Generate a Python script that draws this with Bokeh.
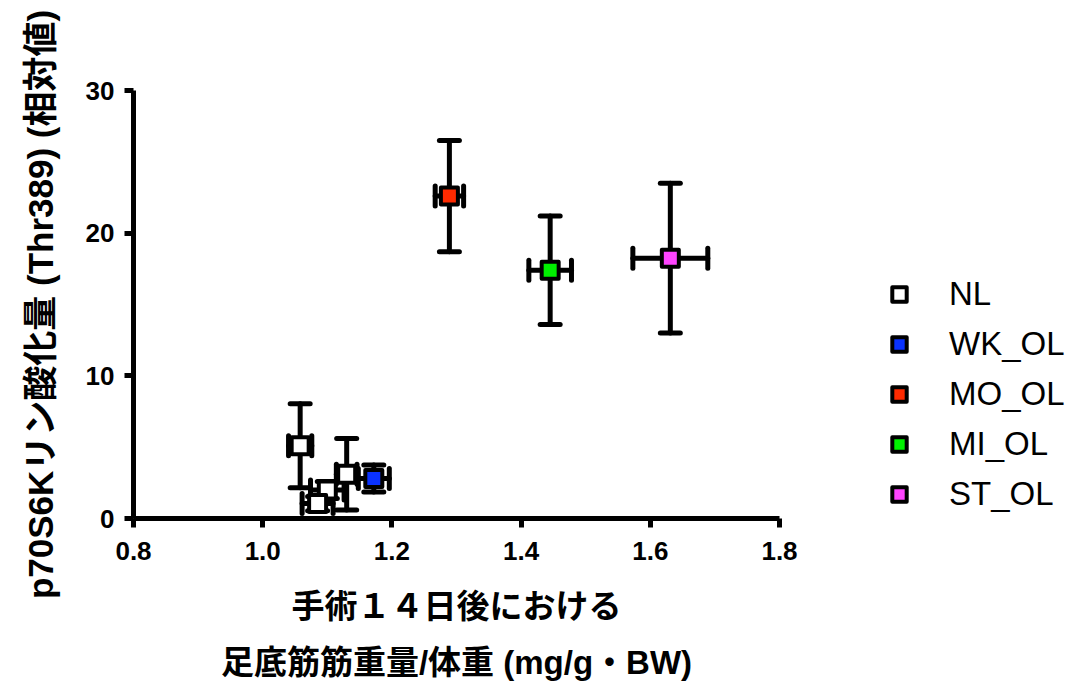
from bokeh.plotting import figure
from bokeh.models import (ColumnDataSource, Whisker, TeeHead, Legend, LegendItem,
                          FixedTicker, Range1d)
from bokeh.embed import file_html
from bokeh.resources import INLINE

# ---- data ----
groups = ["NL", "NL", "NL", "NL", "WK_OL", "MO_OL", "MI_OL", "ST_OL"]
x_vals = [1.058, 1.100, 1.130, 1.085, 1.172, 1.289, 1.445, 1.631]
y_vals = [5.1, 2.0, 3.1, 1.05, 2.8, 22.6, 17.4, 18.25]
x_err = [0.018, 0.026, 0.016, 0.024, 0.024, 0.022, 0.033, 0.058]
y_err = [2.95, 0.6, 2.5, 0.5, 0.95, 3.9, 3.8, 5.25]

legend_order = ["NL", "WK_OL", "MO_OL", "MI_OL", "ST_OL"]
group_colors = {"NL": "#ffffff", "WK_OL": "#0a32ff", "MO_OL": "#ff2a00",
                "MI_OL": "#00f000", "ST_OL": "#ff44ff"}

x_ticks = [0.8, 1.0, 1.2, 1.4, 1.6, 1.8]
y_ticks = [0, 10, 20, 30]

x_title = "手術１４日後における\n足底筋筋重量/体重 (mg/g・BW)"
y_title = "p70S6Kリン酸化量 (Thr389) (相対値)"

FONT = "'Liberation Sans', 'Noto Sans CJK JP'"

p = figure(frame_width=646, frame_height=428, output_backend="svg", toolbar_location=None,
           x_range=Range1d(0.8, 1.8), y_range=Range1d(0, 30),
           min_border_left=133, min_border_right=292, min_border_top=90,
           min_border_bottom=165)
p.outline_line_color = None
p.xgrid.visible = False
p.ygrid.visible = False
p.background_fill_color = "white"
p.border_fill_color = "white"

for ax in (p.xaxis[0], p.yaxis[0]):
    ax.axis_line_width = 5
    ax.axis_line_color = "black"
    ax.major_tick_line_width = 5
    ax.major_tick_line_color = "black"
    ax.major_tick_out = 9
    ax.major_tick_in = 0
    ax.minor_tick_line_color = None
    ax.major_label_text_font = FONT
    ax.major_label_text_font_style = "bold"
    ax.major_label_text_font_size = "26px"
    ax.major_label_text_color = "black"
    ax.axis_label_text_font = FONT
    ax.axis_label_text_font_style = "bold"
    ax.axis_label_text_color = "black"

p.xaxis.ticker = FixedTicker(ticks=x_ticks)
p.xaxis.major_label_overrides = {t: f"{t:.1f}" for t in x_ticks}
p.xaxis.major_label_standoff = 14
p.yaxis.major_label_standoff = 10
p.yaxis.ticker = FixedTicker(ticks=y_ticks)
p.xaxis.axis_label = x_title
p.xaxis.axis_label_text_font_size = "33px"
p.xaxis.axis_label_text_line_height = 1.53
p.xaxis.axis_label_standoff = 25
p.yaxis.axis_label = y_title
p.yaxis.axis_label_text_font_size = "35px"
p.yaxis.axis_label_standoff = 23

items = []
for g in legend_order:
    idx = [i for i, gg in enumerate(groups) if gg == g]
    xs = [x_vals[i] for i in idx]
    ys = [y_vals[i] for i in idx]
    src = ColumnDataSource(dict(
        x=xs, y=ys,
        yl=[y_vals[i] - y_err[i] for i in idx], yu=[y_vals[i] + y_err[i] for i in idx],
        xl=[x_vals[i] - x_err[i] for i in idx], xu=[x_vals[i] + x_err[i] for i in idx],
    ))
    wy = Whisker(source=src, base="x", lower="yl", upper="yu", dimension="height",
                 line_width=5, line_color="black", line_cap="round", level="underlay",
                 upper_head=TeeHead(size=20, line_width=5, line_color="black", line_cap="round"),
                 lower_head=TeeHead(size=20, line_width=5, line_color="black", line_cap="round"))
    wx = Whisker(source=src, base="y", lower="xl", upper="xu", dimension="width",
                 line_width=5, line_color="black", line_cap="round", level="underlay",
                 upper_head=TeeHead(size=20, line_width=5, line_color="black", line_cap="round"),
                 lower_head=TeeHead(size=20, line_width=5, line_color="black", line_cap="round"))
    p.add_layout(wy)
    p.add_layout(wx)
    r = p.scatter("x", "y", source=src, marker="square", size=17,
                  fill_color=group_colors[g], line_color="black", line_width=4,
                  line_join="round")
    items.append(LegendItem(label=g, renderers=[r]))

legend = Legend(items=items, location=(102, 5), margin=0, padding=0,
                border_line_alpha=0, background_fill_alpha=0,
                label_text_font=FONT, label_text_font_size="33px",
                label_text_color="black", label_standoff=32,
                glyph_width=36, glyph_height=36, label_height=38, spacing=12)
p.add_layout(legend, "right")

open("out.html", "w").write(file_html(p, INLINE))
